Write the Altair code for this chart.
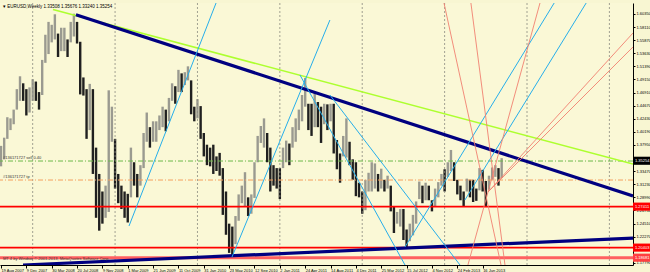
import altair as alt
import pandas as pd

# ---- price bars: one bar per 2 weeks, week index = 2*i counted from 19 Aug 2007
bar_low = [1.343, 1.355, 1.390, 1.405, 1.415, 1.440, 1.455, 1.455, 1.430, 1.435,
           1.455, 1.455, 1.440, 1.465, 1.520, 1.535, 1.555, 1.560, 1.530, 1.540,
           1.540, 1.530, 1.555, 1.565, 1.553, 1.466, 1.464, 1.390, 1.405, 1.330,
           1.255, 1.233, 1.245, 1.255, 1.265, 1.385, 1.305, 1.280, 1.270, 1.255,
           1.247, 1.290, 1.310, 1.290, 1.310, 1.340, 1.385, 1.375, 1.385, 1.385,
           1.405, 1.410, 1.403, 1.420, 1.455, 1.450, 1.470, 1.470, 1.482, 1.490,
           1.432, 1.420, 1.425, 1.390, 1.360, 1.345, 1.343, 1.330, 1.335, 1.327,
           1.260, 1.226, 1.195, 1.188, 1.210, 1.250, 1.280, 1.275, 1.258, 1.262,
           1.289, 1.350, 1.383, 1.375, 1.350, 1.300, 1.310, 1.305, 1.287, 1.340,
           1.350, 1.345, 1.375, 1.385, 1.405, 1.420, 1.445, 1.405, 1.395, 1.410,
           1.410, 1.383, 1.415, 1.405, 1.420, 1.365, 1.338, 1.315, 1.360, 1.358,
           1.345, 1.320, 1.292, 1.290, 1.262, 1.268, 1.300, 1.300, 1.305, 1.300,
           1.305, 1.300, 1.305, 1.266, 1.229, 1.245, 1.240, 1.217, 1.204, 1.215,
           1.225, 1.245, 1.287, 1.280, 1.285, 1.285, 1.266, 1.274, 1.290, 1.310,
           1.300, 1.325, 1.335, 1.318, 1.295, 1.285, 1.275, 1.300, 1.290, 1.282,
           1.284, 1.302, 1.300, 1.275, 1.303, 1.320, 1.325, 1.310, 1.323]
bar_high = [1.378, 1.392, 1.427, 1.425, 1.440, 1.475, 1.497, 1.485, 1.475, 1.478,
            1.492, 1.488, 1.470, 1.525, 1.568, 1.590, 1.585, 1.603, 1.570, 1.580,
            1.580, 1.560, 1.590, 1.604, 1.590, 1.556, 1.495, 1.475, 1.484, 1.475,
            1.375, 1.330, 1.300, 1.310, 1.473, 1.445, 1.390, 1.330, 1.310, 1.300,
            1.296, 1.375, 1.350, 1.330, 1.345, 1.400, 1.435, 1.410, 1.420, 1.420,
            1.430, 1.445, 1.440, 1.460, 1.485, 1.480, 1.508, 1.502, 1.504, 1.514,
            1.490, 1.445, 1.458, 1.446, 1.400, 1.380, 1.375, 1.380, 1.360, 1.366,
            1.340, 1.300, 1.245, 1.240, 1.258, 1.295, 1.310, 1.333, 1.290, 1.295,
            1.350, 1.395, 1.412, 1.425, 1.400, 1.375, 1.345, 1.340, 1.340, 1.375,
            1.387, 1.382, 1.410, 1.425, 1.440, 1.465, 1.494, 1.450, 1.450, 1.470,
            1.453, 1.445, 1.450, 1.449, 1.450, 1.450, 1.388, 1.365, 1.395, 1.425,
            1.385, 1.355, 1.350, 1.315, 1.300, 1.320, 1.332, 1.350, 1.348, 1.330,
            1.339, 1.320, 1.327, 1.310, 1.275, 1.265, 1.270, 1.270, 1.235, 1.245,
            1.260, 1.283, 1.317, 1.310, 1.315, 1.310, 1.285, 1.305, 1.316, 1.330,
            1.338, 1.350, 1.371, 1.350, 1.320, 1.310, 1.300, 1.322, 1.320, 1.320,
            1.305, 1.340, 1.337, 1.318, 1.327, 1.341, 1.345, 1.340, 1.357]

# ---- axes
x_tick_weeks = [0, 16, 32, 48, 64, 80, 96, 112, 128, 144, 160, 176, 192, 208,
                224, 240, 256, 272, 288, 304]
x_tick_labels = ["19 Aug 2007", "9 Dec 2007", "30 Mar 2008", "20 Jul 2008",
                 "9 Nov 2008", "1 Mar 2009", "21 Jun 2009", "11 Oct 2009",
                 "31 Jan 2010", "23 May 2010", "12 Sep 2010", "2 Jan 2011",
                 "24 Apr 2011", "14 Aug 2011", "4 Dec 2011", "25 Mar 2012",
                 "15 Jul 2012", "4 Nov 2012", "24 Feb 2013", "16 Jun 2013"]
y_tick_values = [1.60350, 1.58110, 1.55870, 1.53630, 1.51390, 1.49150, 1.46910,
                 1.44670, 1.42430, 1.40190, 1.37950, 1.35710, 1.33470, 1.31230,
                 1.28990, 1.26750, 1.24510, 1.22270, 1.20030, 1.17790]
year_grid_weeks = [20, 72, 124, 176, 228, 280, 332, 384]

# ---- trend lines (week, price) -> (week, price)
seg_group = ["green", "navy", "navy",
             "blue", "blue", "blue", "blue", "blue", "blue",
             "salmon", "salmon", "salmon", "salmon", "salmon"]
seg_w1 = [32.8, 47.3, 13.9,
          80.8, 145.8, 188.7, 207.6, 255.0, 292.8,
          307.4, 307.4, 294.7, 279.6, 296.6]
seg_p1 = [1.6112, 1.6023, 1.1743,
          1.2410, 1.1880, 1.4992, 1.4650, 1.2051, 1.2854,
          1.2991, 1.2991, 1.1743, 1.6223, 1.6223]
seg_w2 = [398.9, 398.9, 398.9,
          141.4, 207.6, 255.0, 289.7, 350.3, 370.5,
          398.9, 398.9, 340.2, 315.6, 318.1]
seg_p2 = [1.3470, 1.2923, 1.2204,
          1.6616, 1.5932, 1.1743, 1.1743, 1.6274, 1.6274,
          1.5710, 1.5471, 1.6223, 1.1743, 1.1743]

# ---- horizontal levels
hline_price = [1.2741, 1.2040, 1.1868]
hline_color = ["#FF0000", "#FF0000", "#FF6060"]
hline_width = [1.6, 1.6, 3.0]
order_price = [1.3521, 1.3196]
order_label = ["#136171727 sell 0.40", "#136171727 tp"]
order_color = ["#6CB84A", "#F4A060"]
box_price = [1.35254, 1.27411, 1.20403, 1.18681]
box_label = ["1.35254", "1.27411", "1.20403", "1.18681"]
box_color = ["#000000", "#FF0000", "#FF0000", "#FF4040"]

W_DOMAIN = [-0.63, 398.9]
P_DOMAIN = [1.1743, 1.6223]
FONT = "Liberation Sans"

bars = pd.DataFrame({
    "w": [2 * i for i in range(len(bar_low))],
    "lo": bar_low,
    "hi": bar_high,
})
mid = [(a + b) / 2 for a, b in zip(bar_low, bar_high)]
bars["dir"] = ["up" if i == 0 or mid[i] >= mid[i - 1] else "down" for i in range(len(mid))]

xs = alt.Scale(domain=W_DOMAIN, nice=False, zero=False)
ys = alt.Scale(domain=P_DOMAIN, nice=False, zero=False)

label_expr = "[" + ",".join("'%s'" % s for s in x_tick_labels) + "][round(datum.value/16)]"

x_axis = alt.Axis(values=x_tick_weeks, labelExpr=label_expr, title=None, grid=False,
                  labelAlign="left", labelFontSize=4, labelFont=FONT, labelColor="#000",
                  tickSize=3, tickColor="#000", domainColor="#000", labelPadding=0,
                  labelFlush=False, labelOverlap=False)
y_axis = alt.Axis(values=y_tick_values, format=".5f", orient="right", title=None,
                  grid=False, labelFontSize=4, labelFont=FONT, labelColor="#000",
                  tickSize=2, tickColor="#000", domainColor="#000", labelPadding=1,
                  labelOverlap=False, labelFlush=False)


def X(field):
    return alt.X(field, scale=xs, axis=x_axis)


def Y(field):
    return alt.Y(field, scale=ys, axis=y_axis)


candles = alt.Chart(bars).mark_rule(strokeWidth=2.4).encode(
    x=X("w:Q"),
    y=Y("lo:Q"),
    y2="hi:Q",
    color=alt.Color("dir:N", scale=alt.Scale(domain=["up", "down"], range=["#9a9a90", "#202020"]), legend=None),
)

grid = alt.Chart(pd.DataFrame({"w": year_grid_weeks})).mark_rule(
    color="#8a8a80", strokeDash=[2, 2], strokeWidth=0.8
).encode(x=X("w:Q"))

hl = pd.DataFrame({"p": hline_price, "c": hline_color, "sw": hline_width})
hlines = alt.Chart(hl).mark_rule().encode(
    y=Y("p:Q"),
    color=alt.Color("c:N", scale=None),
    strokeWidth=alt.StrokeWidth("sw:Q", scale=None),
)

od = pd.DataFrame({"p": order_price, "t": order_label, "c": order_color})
olines = alt.Chart(od).mark_rule(strokeDash=[5, 2, 1, 2], strokeWidth=1).encode(
    y=Y("p:Q"), color=alt.Color("c:N", scale=None))
otext = alt.Chart(od).mark_text(align="left", baseline="bottom", fontSize=4, font=FONT,
                                color="#333", dx=3, dy=-1).encode(
    x=alt.value(0), y=Y("p:Q"), text="t:N")

seg = pd.DataFrame({"g": seg_group, "w1": seg_w1, "p1": seg_p1, "w2": seg_w2, "p2": seg_p2})


def seg_layer(group, color, width):
    return alt.Chart(seg).transform_filter(alt.datum.g == group).mark_rule(
        color=color, strokeWidth=width, clip=True
    ).encode(x=X("w1:Q"), y=Y("p1:Q"), x2="w2:Q", y2="p2:Q")


green = seg_layer("green", "#ADFF2F", 1.6)
navy = seg_layer("navy", "#000080", 3.2)
blue = seg_layer("blue", "#26AEEA", 1.0)
salmon = seg_layer("salmon", "#F08070", 0.9)

bx = pd.DataFrame({"p": box_price, "t": box_label, "c": box_color})
boxes = alt.Chart(bx).mark_point(
    shape="M-1,-0.45H1V0.45H-1Z", filled=True, size=324, opacity=1
).encode(x=alt.value(642), y=Y("p:Q"), color=alt.Color("c:N", scale=None))
btext = alt.Chart(bx).mark_text(align="left", baseline="middle", fontSize=4, font=FONT,
                                color="white").encode(
    x=alt.value(635), y=Y("p:Q"), text="t:N")

header = alt.Chart(pd.DataFrame({"t": ["\u25be EURUSD,Weekly  1.33508 1.35676 1.33240 1.35254"]})).mark_text(
    align="left", baseline="middle", fontSize=4.5, font=FONT, color="#000"
).encode(x=alt.value(3), y=alt.value(4), text="t:N")
footer = alt.Chart(pd.DataFrame({"t": ["MT 4 by Windsor \u00a9 2001-2013, MetaQuotes Software Corp."]})).mark_text(
    align="left", baseline="middle", fontSize=4, font=FONT, color="#333"
).encode(x=alt.value(3), y=alt.value(256), text="t:N")

chart = alt.layer(
    candles, grid, olines, otext, hlines, green, navy, blue, salmon, boxes, btext, header, footer
).properties(
    width=633, height=262,
    autosize=alt.AutoSizeParams(type="none"),
    padding={"left": 0, "top": 3, "right": 17, "bottom": 7},
    background="#F8F6D2",
).configure_view(stroke=None, fill="#FAF8D6")

chart.save("out.html", embed_options={"renderer": "svg", "actions": False})
